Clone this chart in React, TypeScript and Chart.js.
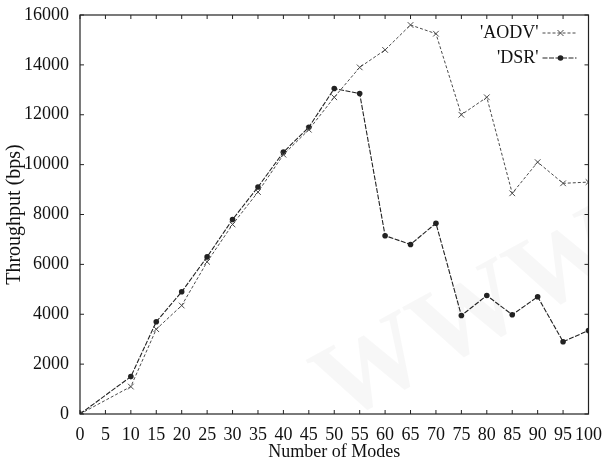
import React, { useEffect, useRef } from "react";
import { Chart, registerables } from "chart.js";

Chart.register(...registerables);

const nodes = [0, 10, 15, 20, 25, 30, 35, 40, 45, 50, 55, 60, 65, 70, 75, 80, 85, 90, 95, 100];
const aodv = [0, 1100, 3400, 4350, 6100, 7600, 8900, 10400, 11400, 12700, 13900, 14600, 15600, 15250, 12000, 12700, 8850, 10100, 9250, 9300];
const dsr = [0, 1500, 3700, 4900, 6300, 7800, 9100, 10500, 11500, 13050, 12850, 7150, 6800, 7650, 3950, 4750, 3980, 4700, 2900, 3350];
const seriesNames = ["'AODV'", "'DSR'"];
const xTitle = "Number of Modes";
const yTitle = "Throughput (bps)";
const watermark = "WWW";

const FONT = "'Liberation Serif', 'DejaVu Serif', serif";

const framePlugin = {
  id: "frame",
  beforeDatasetsDraw(chart: any) {
    const { ctx, chartArea: a } = chart;
    ctx.save();
    ctx.beginPath();
    ctx.rect(a.left, a.top, a.right - a.left, a.bottom - a.top);
    ctx.clip();
    ctx.translate(470, 320);
    ctx.rotate(-0.5);
    ctx.font = `bold 110px ${FONT}`;
    ctx.fillStyle = "rgba(0,0,0,0.03)";
    ctx.textAlign = "center";
    ctx.textBaseline = "middle";
    ctx.fillText(watermark, 0, 0);
    ctx.restore();
  },
  afterDatasetsDraw(chart: any) {
    const { ctx, chartArea: a, scales } = chart;
    ctx.save();
    ctx.strokeStyle = "#222";
    ctx.lineWidth = 1.2;
    ctx.strokeRect(a.left, a.top, a.right - a.left, a.bottom - a.top);
    const x = scales.x, y = scales.y;
    ctx.lineWidth = 1;
    ctx.beginPath();
    x.ticks.forEach((t: any) => {
      const px = x.getPixelForValue(t.value);
      ctx.moveTo(px, a.bottom); ctx.lineTo(px, a.bottom - 4);
      ctx.moveTo(px, a.top); ctx.lineTo(px, a.top + 4);
    });
    y.ticks.forEach((t: any) => {
      const py = y.getPixelForValue(t.value);
      ctx.moveTo(a.left, py); ctx.lineTo(a.left + 4, py);
      ctx.moveTo(a.right, py); ctx.lineTo(a.right - 4, py);
    });
    ctx.stroke();

    // legend
    ctx.font = `18px ${FONT}`;
    ctx.fillStyle = "#111";
    ctx.textAlign = "right";
    ctx.textBaseline = "middle";
    const rows = [
      { y: a.top + 18, ds: chart.data.datasets[0] },
      { y: a.top + 43, ds: chart.data.datasets[1] },
    ];
    rows.forEach((r, i) => {
      ctx.fillText(seriesNames[i], a.right - 50, r.y);
      ctx.strokeStyle = r.ds.borderColor;
      ctx.setLineDash(r.ds.borderDash);
      ctx.beginPath();
      ctx.moveTo(a.right - 46, r.y);
      ctx.lineTo(a.right - 12, r.y);
      ctx.stroke();
      ctx.setLineDash([]);
      const cx = a.right - 28;
      if (i === 0) {
        ctx.beginPath();
        ctx.moveTo(cx - 3, r.y - 3); ctx.lineTo(cx + 3, r.y + 3);
        ctx.moveTo(cx + 3, r.y - 3); ctx.lineTo(cx - 3, r.y + 3);
        ctx.stroke();
      } else {
        ctx.fillStyle = r.ds.borderColor;
        ctx.beginPath();
        ctx.arc(cx, r.y, 2.8, 0, Math.PI * 2);
        ctx.fill();
        ctx.fillStyle = "#111";
      }
    });
    ctx.restore();
  },
};

export default function App() {
  const ref = useRef<HTMLCanvasElement>(null);
  useEffect(() => {
    document.body.style.margin = "0";
    const chart = new Chart(ref.current!, {
      type: "line",
      data: {
        datasets: [
          {
            label: seriesNames[0],
            data: nodes.map((n, i) => ({ x: n, y: aodv[i] })),
            borderColor: "#4a4a4a",
            backgroundColor: "#4a4a4a",
            borderWidth: 1,
            borderDash: [3, 2],
            pointStyle: "crossRot",
            pointRadius: 4,
            pointBorderWidth: 1,
          },
          {
            label: seriesNames[1],
            data: nodes.map((n, i) => ({ x: n, y: dsr[i] })),
            borderColor: "#222",
            backgroundColor: "#222",
            borderWidth: 1.1,
            borderDash: [5, 1.5],
            pointStyle: "circle",
            pointRadius: 2.8,
            pointBorderWidth: 0,
          },
        ],
      },
      plugins: [framePlugin],
      options: {
        animation: false,
        responsive: false,
        layout: { padding: { left: 0, right: 12, top: 15, bottom: 0 } },
        plugins: { legend: { display: false }, tooltip: { enabled: false } },
        scales: {
          x: {
            type: "linear",
            min: 0,
            max: 100,
            ticks: { stepSize: 5, color: "#111", font: { family: FONT, size: 18 }, padding: 2, maxRotation: 0, autoSkip: false, callback: (v: any) => String(v) },
            grid: { display: false },
            border: { display: false },
            title: { display: true, text: xTitle, color: "#111", font: { family: FONT, size: 18 }, padding: { top: 0, bottom: 0 } },
            afterFit: (s: any) => { s.height = 49; },
          },
          y: {
            min: 0,
            max: 16000,
            ticks: { stepSize: 2000, color: "#111", font: { family: FONT, size: 18 }, padding: 3, callback: (v: any) => String(v) },
            grid: { display: false },
            border: { display: false },
            title: { display: true, text: yTitle, color: "#111", font: { family: FONT, size: 20 }, padding: { top: 3, bottom: 0 } },
            afterFit: (s: any) => { s.width = 80; },
          },
        },
      },
    } as any);
    return () => chart.destroy();
  }, []);
  return <canvas ref={ref} width={604} height={463} style={{ display: "block" }} />;
}
